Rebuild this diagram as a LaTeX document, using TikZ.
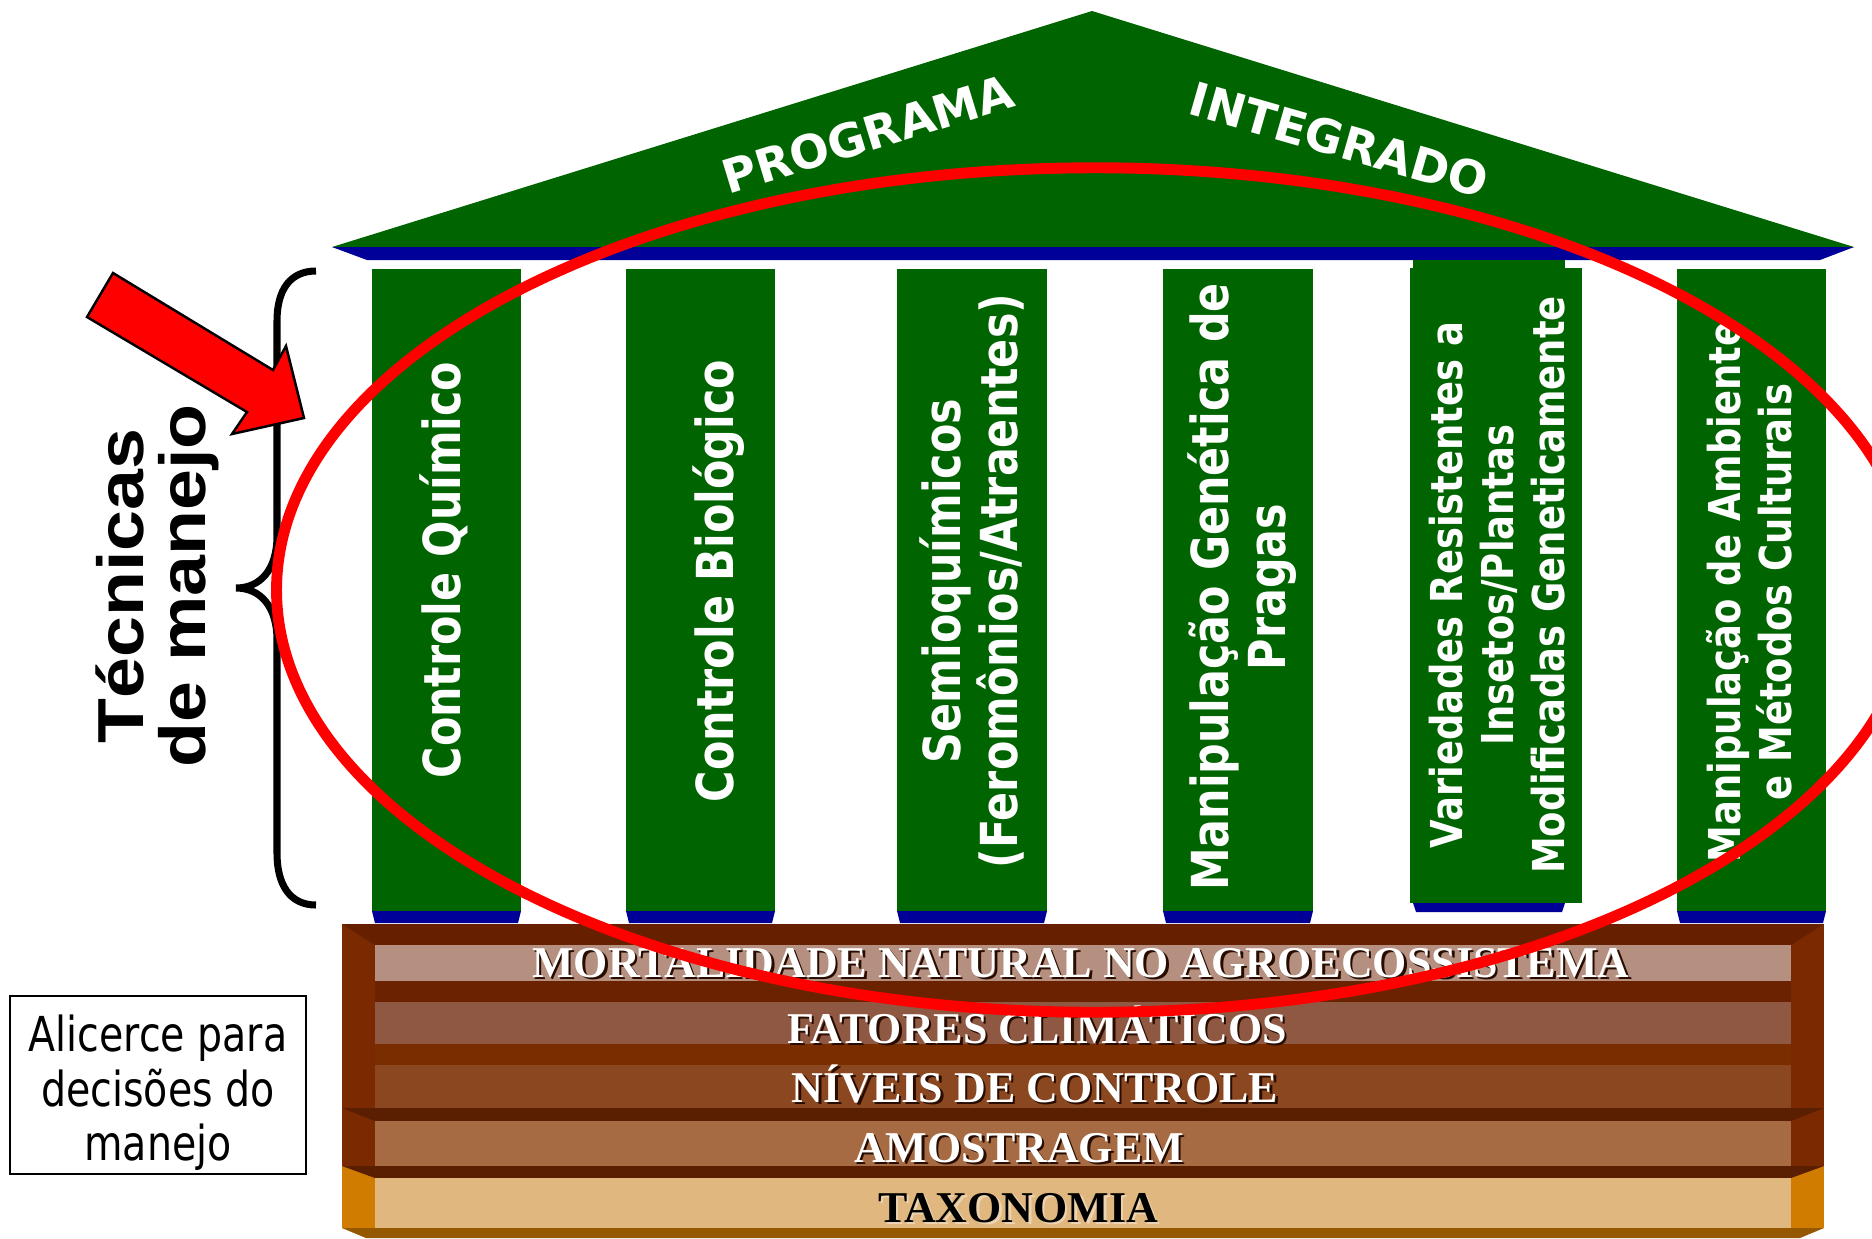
\documentclass[tikz,border=0pt]{standalone}
\usepackage{fontspec}
\usepackage{tikz}

\newfontfamily\pillarfont[FakeStretch=0.84]{DejaVu Sans}
\newfontfamily\rooffont{DejaVu Sans}
\newfontfamily\sidefont[FakeStretch=1.13]{Liberation Sans}
\newfontfamily\stonefont{Liberation Serif}
\newfontfamily\notefont[FakeStretch=0.82]{DejaVu Sans}

\newcommand\pillarbig{\pillarfont\bfseries\fontsize{14.5}{16.2}\selectfont}
\newcommand\pillarsmall{\pillarfont\bfseries\fontsize{12.5}{14.5}\selectfont}
\newcommand\roofsize{\rooffont\bfseries\fontsize{13.2}{16}\selectfont}
\newcommand\stonesize{\stonefont\bfseries\fontsize{12.5}{14}\selectfont}
\newcommand\sidesize{\sidefont\bfseries\fontsize{18.5}{17.6}\selectfont}
\newcommand\notesize{\notefont\fontsize{13.7}{15.5}\selectfont}
\newcommand\shadowtext[2]{\leavevmode\rlap{\kern0.7pt\raisebox{-0.7pt}{\textcolor{#1}{#2}}}#2}

\definecolor{roofgreen}{RGB}{0,100,0}
\definecolor{bandblue}{RGB}{0,0,153}
\definecolor{sidebrown}{RGB}{123,41,0}
\definecolor{topbrown}{RGB}{102,32,0}
\definecolor{bandbrown}{RGB}{107,34,0}
\definecolor{bandbrownB}{RGB}{122,46,0}
\definecolor{darkbrown}{RGB}{90,30,0}
\definecolor{layerA}{RGB}{181,143,127}
\definecolor{layerB}{RGB}{143,88,66}
\definecolor{layerC}{RGB}{139,71,32}
\definecolor{layerD}{RGB}{166,107,66}
\definecolor{layerE}{RGB}{223,183,127}
\definecolor{sideorange}{RGB}{208,124,0}
\definecolor{bottombrown}{RGB}{149,88,0}
\definecolor{shadowbrown}{RGB}{40,12,0}

\begin{document}
\begin{tikzpicture}[x=0.01cm, y=-0.01cm,
  pillar/.style={rotate=90, text=white, inner sep=0pt, align=center},
  roofword/.style={text=white, inner sep=0pt, font=\roofsize},
  stone/.style={anchor=base, inner sep=0pt, font=\stonesize}]
\useasboundingbox (0,0) rectangle (1872,1238);

% roof
\fill[roofgreen] (332,247) -- (1092,11) -- (1854,247) -- cycle;
\fill[bandblue] (332,247) -- (1854,247) -- (1820,260) -- (367,260) -- cycle;
\node[roofword, rotate=17] (programa) at (868,134) {PROGRAMA};
\node[roofword, rotate=-16] (integrado) at (1339,140) {INTEGRADO};

% pillars
\foreach \l/\r in {372/521, 626/775, 897/1047, 1163/1313, 1677/1826} {
  \fill[roofgreen] (\l,269) rectangle (\r,911);
  \fill[bandblue] (\l,911) -- (\r,911) -- (\r-3,923) -- (\l+3,923) -- cycle;
}
\fill[roofgreen] (1413,260) rectangle (1565,269);
\fill[roofgreen] (1410,268) rectangle (1582,903);
\fill[bandblue] (1413,903) -- (1565,903) -- (1562,912) -- (1416,912) -- cycle;

\node[pillar, font=\pillarbig] (quimico) at (444,570) {Controle Químico};
\node[pillar, font=\pillarbig] (biologico) at (719,581) {Controle Biológico};
\node[pillar, font=\pillarbig] (semio) at (972,581) {Semioquímicos\\(Feromônios/Atraentes)};
\node[pillar, font=\pillarbig] (genetica) at (1242,587) {Manipulação Genética de\\Pragas};
\node[pillar, font=\pillarsmall] (variedades) at (1497,585) {Variedades Resistentes a\\Insetos/Plantas\\Modificadas Geneticamente};
\node[pillar, font=\pillarsmall] (ambiente) at (1749,592) {Manipulação de Ambiente\\e Métodos Culturais};

% foundation
\fill[sidebrown] (342,924) rectangle (1824,1108);
\fill[topbrown] (342,924) -- (1824,924) -- (1791,945) -- (375,945) -- cycle;
\fill[bandbrown] (375,945) rectangle (1791,1108);
\fill[layerA] (375,945) rectangle (1791,981);
\fill[layerB] (375,1002) rectangle (1791,1044);
\fill[bandbrownB] (375,1044) rectangle (1791,1065);
\fill[layerC] (375,1065) rectangle (1791,1108);
\fill[sidebrown] (342,1108) rectangle (1824,1166);
\fill[darkbrown] (342,1108) -- (1824,1108) -- (1791,1121) -- (375,1121) -- cycle;
\fill[layerD] (375,1121) rectangle (1791,1166);
\fill[sideorange] (342,1166) rectangle (1824,1228);
\fill[darkbrown] (342,1166) -- (1824,1166) -- (1791,1178) -- (375,1178) -- cycle;
\fill[layerE] (375,1178) rectangle (1791,1228);
\fill[bottombrown] (342,1228) -- (1824,1228) -- (1800,1238) -- (366,1238) -- cycle;

\node[stone, text=white] (mortalidade) at (1081,977) {\shadowtext{shadowbrown}{MORTALIDADE NATURAL NO AGROECOSSISTEMA}};
\node[stone, text=white] (fatores) at (1037,1043) {\shadowtext{shadowbrown}{FATORES CLIMÁTICOS}};
\node[stone, text=white] (niveis) at (1035,1102) {\shadowtext{shadowbrown}{NÍVEIS DE CONTROLE}};
\node[stone, text=white] (amostragem) at (1019,1162) {\shadowtext{shadowbrown}{AMOSTRAGEM}};
\node[stone, text=black] (taxonomia) at (1018,1222) {\shadowtext{layerE!60!white}{TAXONOMIA}};

% left side
\node[rotate=90, align=center, inner sep=0pt, font=\sidesize] (tecnicas) at (157,586) {Técnicas\\de manejo};
\node[draw, line width=0.6pt, minimum width=2.96cm, minimum height=1.78cm, align=center, inner sep=0pt, font=\notesize] (alicerce) at (158,1085) {\rule{0pt}{15pt}Alicerce para\\decisões do\\manejo};

\draw[line width=2pt] (316,271) .. controls (290,271) and (277,290) .. (277,321) -- (277,536)
  .. controls (277,570) and (260,588) .. (236,588) .. controls (260,588) and (277,606) .. (277,640)
  -- (277,853) .. controls (277,885) and (290,905) .. (316,905);
\filldraw[fill=red, draw=black, line width=0.7pt] (113,273) -- (273,370) -- (286,346) -- (304,418)
  -- (232,434) -- (247,412) -- (87,317) -- cycle;

\draw[red, line width=3.1pt] (1095,590) ellipse [x radius=8.18cm, y radius=4.22cm];
\end{tikzpicture}
\end{document}
